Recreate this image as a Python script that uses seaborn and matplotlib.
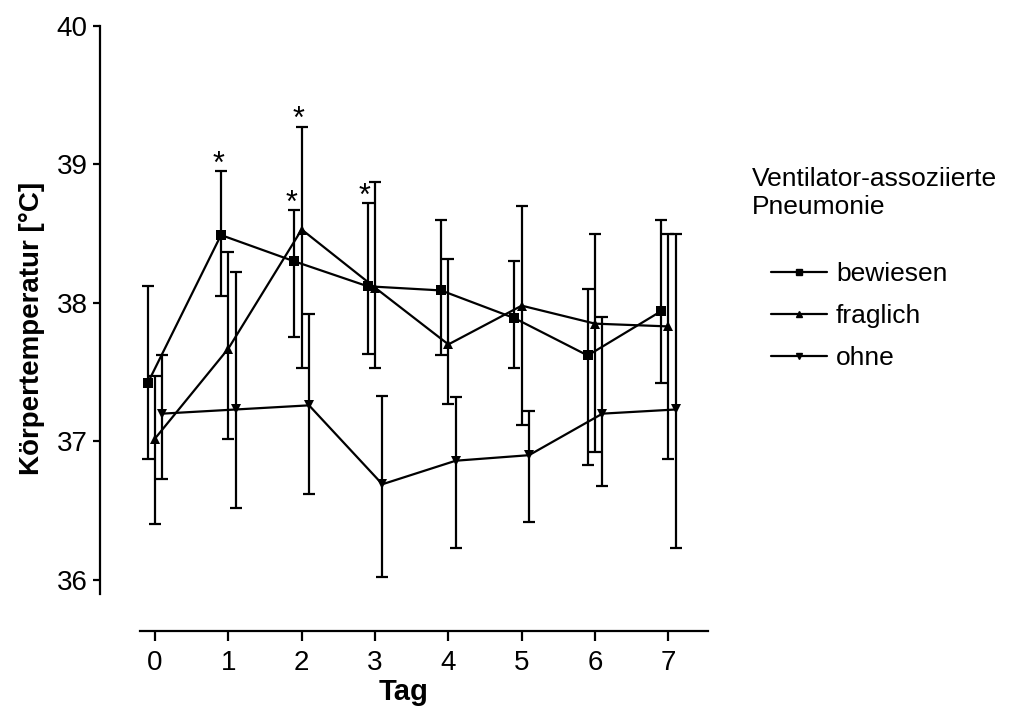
import numpy as np
import pandas as pd
import matplotlib
matplotlib.use('Agg')
import matplotlib.pyplot as plt
import seaborn as sns

# Data (mean with error bar ends)
days = [0, 1, 2, 3, 4, 5, 6, 7]
groups = ['bewiesen', 'fraglich', 'ohne']

bewiesen_mean = [37.42, 38.49, 38.30, 38.12, 38.09, 37.89, 37.62, 37.94]
bewiesen_upper = [38.12, 38.95, 38.67, 38.72, 38.60, 38.30, 38.10, 38.60]
bewiesen_lower = [36.87, 38.05, 37.75, 37.63, 37.62, 37.53, 36.83, 37.42]

fraglich_mean = [37.02, 37.67, 38.53, 38.11, 37.70, 37.98, 37.85, 37.83]
fraglich_upper = [37.47, 38.37, 39.27, 38.87, 38.32, 38.70, 38.50, 38.50]
fraglich_lower = [36.40, 37.02, 37.53, 37.53, 37.27, 37.12, 36.92, 36.87]

ohne_mean = [37.20, 37.23, 37.26, 36.69, 36.86, 36.90, 37.20, 37.23]
ohne_upper = [37.62, 38.22, 37.92, 37.33, 37.32, 37.22, 37.90, 38.50]
ohne_lower = [36.73, 36.52, 36.62, 36.02, 36.23, 36.42, 36.68, 36.23]

# significant differences (day, group)
stars = [(1, 'bewiesen'), (2, 'bewiesen'), (2, 'fraglich'), (3, 'bewiesen')]

# Build long-form table
means = {'bewiesen': bewiesen_mean, 'fraglich': fraglich_mean, 'ohne': ohne_mean}
uppers = {'bewiesen': bewiesen_upper, 'fraglich': fraglich_upper, 'ohne': ohne_upper}
lowers = {'bewiesen': bewiesen_lower, 'fraglich': fraglich_lower, 'ohne': ohne_lower}
dodge = {'bewiesen': -0.1, 'fraglich': 0.0, 'ohne': 0.1}
markers = {'bewiesen': 's', 'fraglich': '^', 'ohne': 'v'}

rows = []
for g in groups:
    for i, d in enumerate(days):
        rows.append({'Tag': d, 'x': d + dodge[g], 'group': g,
                     'mean': means[g][i], 'upper': uppers[g][i], 'lower': lowers[g][i]})
df = pd.DataFrame(rows)

sns.set_style('white')
plt.rcParams['font.family'] = ['Liberation Sans', 'DejaVu Sans']
plt.rcParams['text.color'] = 'black'
plt.rcParams['axes.labelcolor'] = 'black'
plt.rcParams['xtick.color'] = 'black'
plt.rcParams['ytick.color'] = 'black'

fig = plt.figure(figsize=(10.33, 7.24), dpi=100)
ax = fig.add_axes([100 / 1033, 1 - 631 / 724, 608 / 1033, 605 / 724])

sns.lineplot(data=df, x='x', y='mean', style='group', markers=markers, dashes=False,
             color='black', linewidth=1.6, markersize=7, markeredgewidth=0,
             ax=ax, legend=False, sort=False)

for g in groups:
    sub = df[df['group'] == g]
    ax.errorbar(sub['x'], sub['mean'],
                yerr=[sub['mean'] - sub['lower'], sub['upper'] - sub['mean']],
                fmt='none', ecolor='black', elinewidth=1.6, capsize=4, capthick=1.6)

for d, g in stars:
    row = df[(df['Tag'] == d) & (df['group'] == g)].iloc[0]
    ax.text(row['x'] - 0.04, row['upper'] - 0.06, '*', ha='center', va='bottom', fontsize=22)

ax.set_xlim(-0.75, 7.54)
ax.set_ylim(35.63, 40)
ax.set_xticks(days)
ax.set_yticks([36, 37, 38, 39, 40])
ax.spines['top'].set_visible(False)
ax.spines['right'].set_visible(False)
for s in ['left', 'bottom']:
    ax.spines[s].set_linewidth(1.6)
    ax.spines[s].set_color('black')
ax.spines['left'].set_bounds(35.9, 40)
ax.spines['bottom'].set_bounds(-0.21, 7.54)
ax.tick_params(axis='both', direction='out', labelsize=20, width=1.6, color='black',
               bottom=True, left=True)
ax.tick_params(axis='y', length=5, pad=4)
ax.tick_params(axis='x', length=7, pad=7)
ax.set_xlabel('Tag', fontsize=21, fontweight='bold', labelpad=1)
ax.set_ylabel('Körpertemperatur [°C]', fontsize=20, fontweight='bold', labelpad=8)

# legend
fig.text(752 / 1033, 1 - 193 / 724, 'Ventilator-assoziierte\nPneumonie', fontsize=19,
         va='center', ha='left', linespacing=1.25)
handles = [plt.Line2D([], [], color='black', linewidth=1.6, marker=markers[g], markersize=5)
           for g in groups]
fig.legend(handles, groups, loc='upper left', bbox_to_anchor=(758 / 1033, 1 - 249 / 724),
           frameon=False, fontsize=19, handlelength=2.1, handletextpad=0.35,
           labelspacing=0.68, borderpad=0)

fig.savefig('out.png', dpi=100)
